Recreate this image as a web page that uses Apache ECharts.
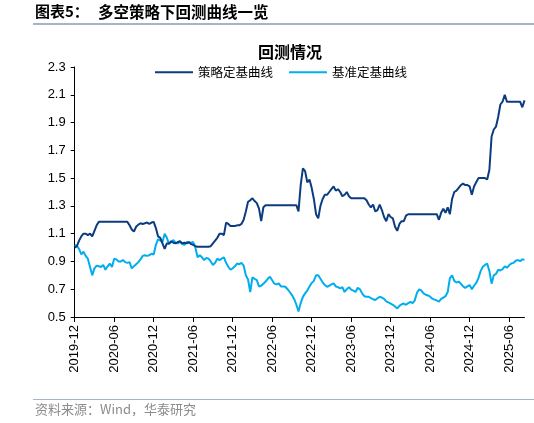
<!DOCTYPE html>
<html>
<head>
<meta charset="utf-8">
<script src="https://cdn.jsdelivr.net/npm/echarts@6/dist/echarts.min.js"></script>
<style>
html,body{margin:0;padding:0;background:#fff;}
#c{width:534px;height:423px;}
</style>
</head>
<body>
<div id="c"></div>
<script>
// Month list (three observations per month: day 01, 11, 21), 2019-12 .. 2025-08
var startYear = 2019, startMonth = 12, monthCount = 69;
var obsDays = ['01', '11', '21'];
var tickLabels = ['2019-12','2020-06','2020-12','2021-06','2021-12','2022-06','2022-12','2023-06','2023-12','2024-06','2024-12','2025-06'];

var strategy = [
1.00,1.01,1.05,1.08,1.10,1.10,1.09,1.10,1.08,1.12,1.16,1.185,
1.185,1.185,1.185,1.185,1.185,1.185,1.185,1.185,1.185,1.185,1.185,1.185,
1.185,1.16,1.13,1.115,1.15,1.165,1.175,1.17,1.175,1.18,1.17,1.18,
1.185,1.14,1.08,1.07,1.03,0.99,1.03,1.03,1.045,1.035,1.03,1.04,
1.045,1.03,1.035,1.03,1.04,1.025,1.02,1.01,1.006,1.006,1.006,1.006,
1.006,1.006,1.01,1.03,1.05,1.07,1.10,1.10,1.09,1.18,1.17,1.155,
1.155,1.155,1.16,1.16,1.17,1.20,1.26,1.33,1.34,1.355,1.335,1.32,
1.28,1.19,1.29,1.305,1.305,1.305,1.305,1.305,1.305,1.305,1.305,1.305,
1.305,1.305,1.305,1.305,1.305,1.305,1.26,1.45,1.57,1.55,1.47,1.49,
1.43,1.35,1.24,1.21,1.30,1.35,1.38,1.38,1.40,1.42,1.44,1.41,
1.42,1.40,1.37,1.38,1.40,1.37,1.355,1.355,1.355,1.355,1.355,1.355,
1.355,1.34,1.31,1.29,1.31,1.26,1.27,1.31,1.27,1.22,1.19,1.24,
1.22,1.21,1.15,1.12,1.17,1.19,1.19,1.23,1.24,1.24,1.24,1.24,
1.24,1.24,1.24,1.24,1.24,1.24,1.24,1.24,1.24,1.24,1.20,1.25,
1.28,1.25,1.29,1.24,1.35,1.40,1.41,1.43,1.45,1.46,1.45,1.45,
1.44,1.38,1.44,1.47,1.50,1.50,1.50,1.50,1.49,1.56,1.80,1.85,
1.87,1.94,2.03,2.05,2.10,2.05,2.05,2.05,2.05,2.05,2.05,2.05,
2.01,2.06
];

var benchmark = [
1.02,1.01,0.99,0.95,0.97,0.94,0.92,0.86,0.80,0.85,0.87,0.865,
0.86,0.875,0.84,0.865,0.885,0.86,0.92,0.915,0.90,0.90,0.91,0.895,
0.89,0.895,0.85,0.865,0.88,0.895,0.915,0.94,0.945,0.94,0.945,0.955,
0.95,1.02,1.06,1.05,1.04,1.10,1.07,1.025,1.04,1.054,1.035,1.03,
1.042,1.025,1.02,1.04,1.035,1.035,1.04,1.00,0.93,0.945,0.93,0.91,
0.925,0.92,0.90,0.875,0.89,0.92,0.91,0.92,0.93,0.89,0.862,0.84,
0.85,0.865,0.885,0.88,0.89,0.87,0.80,0.77,0.68,0.785,0.775,0.766,
0.72,0.725,0.74,0.755,0.775,0.79,0.765,0.74,0.735,0.742,0.72,0.72,
0.718,0.70,0.68,0.658,0.63,0.59,0.54,0.60,0.645,0.67,0.69,0.72,
0.745,0.76,0.80,0.80,0.775,0.75,0.73,0.718,0.725,0.735,0.742,0.72,
0.715,0.706,0.715,0.68,0.70,0.715,0.697,0.69,0.68,0.71,0.70,0.67,
0.65,0.646,0.646,0.636,0.628,0.622,0.635,0.645,0.64,0.63,0.612,0.605,
0.597,0.588,0.575,0.562,0.58,0.592,0.597,0.588,0.60,0.608,0.60,0.62,
0.675,0.70,0.69,0.67,0.66,0.655,0.646,0.632,0.625,0.62,0.61,0.63,
0.64,0.65,0.68,0.78,0.80,0.76,0.748,0.755,0.74,0.72,0.71,0.72,
0.73,0.70,0.725,0.745,0.78,0.83,0.862,0.875,0.885,0.83,0.74,0.80,
0.81,0.84,0.835,0.845,0.865,0.855,0.872,0.885,0.89,0.905,0.91,0.902,
0.915,0.912
];

var seriesNames = ['策略定基曲线', '基准定基曲线'];
var seriesColors = ['#0C3C80', '#00AEEF'];

// build category dates
var categories = [];
(function () {
  var y = startYear, m = startMonth;
  for (var k = 0; k < monthCount; k++) {
    var mm = (m < 10 ? '0' : '') + m;
    for (var d = 0; d < obsDays.length; d++) {
      categories.push(y + '-' + mm + '-' + obsDays[d]);
    }
    m++; if (m > 12) { m = 1; y++; }
  }
  categories = categories.slice(0, strategy.length);
})();

function isTick(index, value) {
  return value.slice(8) === '01' && tickLabels.indexOf(value.slice(0, 7)) >= 0;
}

var chart = echarts.init(document.getElementById('c'), null, {renderer: 'canvas'});
var latin = '"Liberation Sans", Arial, sans-serif';
var cjk = '"Noto Sans CJK SC", sans-serif';

chart.setOption({
  animation: false,
  backgroundColor: '#ffffff',
  title: {
    text: '回测情况',
    left: 253,
    top: 39,
    textStyle: {fontFamily: cjk, fontSize: 16, fontWeight: 'bold', color: '#000'}
  },
  legend: {
    data: [
      {name: seriesNames[0], icon: 'rect'},
      {name: seriesNames[1], icon: 'rect'}
    ],
    left: 150,
    top: 61,
    itemWidth: 38,
    itemHeight: 2,
    itemGap: 16,
    textStyle: {fontFamily: cjk, fontSize: 12.5, color: '#000', padding: [0,0,0,0]}
  },
  grid: {left: 74.7, right: 9.5, top: 67, bottom: 106, containLabel: false},
  xAxis: {
    type: 'category',
    data: categories,
    boundaryGap: false,
    axisLine: {lineStyle: {color: '#000', width: 1}},
    axisTick: {show: true, interval: isTick, length: 5, lineStyle: {color: '#000'}},
    axisLabel: {
      interval: isTick,
      rotate: 90,
      margin: 8,
      fontFamily: latin,
      fontSize: 13,
      color: '#000',
      formatter: function (v) { return v.slice(0, 7); }
    },
    splitLine: {show: false}
  },
  yAxis: {
    type: 'value',
    min: 0.5,
    max: 2.3,
    interval: 0.2,
    axisLine: {show: true, lineStyle: {color: '#000', width: 1}},
    axisTick: {show: true, length: 4, lineStyle: {color: '#000'}},
    axisLabel: {
      margin: 9,
      fontFamily: latin,
      fontSize: 13,
      color: '#000',
      formatter: function (v) { return v.toFixed(1); }
    },
    splitLine: {show: false}
  },
  series: [
    {
      name: seriesNames[0], type: 'line', data: strategy, showSymbol: false, symbol: 'none',
      lineStyle: {color: seriesColors[0], width: 2}, itemStyle: {color: seriesColors[0]}, z: 3
    },
    {
      name: seriesNames[1], type: 'line', data: benchmark, showSymbol: false, symbol: 'none',
      lineStyle: {color: seriesColors[1], width: 2}, itemStyle: {color: seriesColors[1]}, z: 2
    }
  ],
  graphic: [
    {type: 'text', left: 35, top: 4,
     style: {text: '图表5：', fontFamily: cjk, fontSize: 15, fontWeight: 'bold', fill: '#000'}},
    {type: 'text', left: 98, top: 4,
     style: {text: '多空策略下回测曲线一览', fontFamily: cjk, fontSize: 15.5, fontWeight: 'bold', fill: '#000'}},
    {type: 'rect', left: 33, top: 23, shape: {width: 501, height: 2}, style: {fill: '#A5B5C7'}},
    {type: 'rect', left: 33, top: 399, shape: {width: 501, height: 1}, style: {fill: '#A5B5C7'}},
    {type: 'text', left: 35, top: 403,
     style: {text: '资料来源：Wind，华泰研究', fontFamily: cjk, fontSize: 13, fill: '#8C8C8C'}}
  ]
});
</script>
</body>
</html>
